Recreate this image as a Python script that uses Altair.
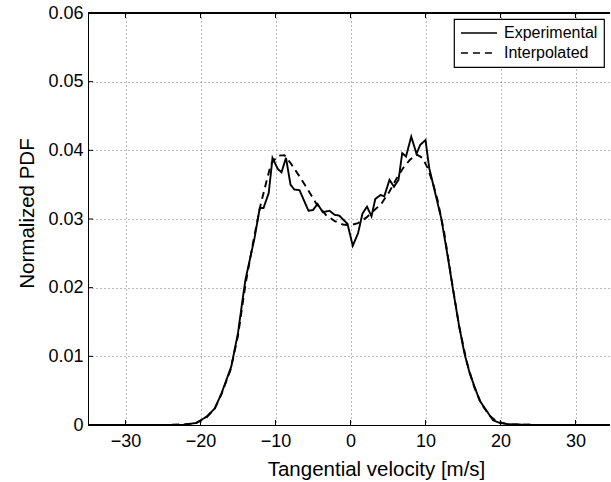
import altair as alt
import pandas as pd

# Experimental PDF
exp_x = [-35, -30, -25, -22.4, -20.6, -19.2, -18.1, -17.2, -15.9, -15.0, -14.4, -14.0,
         -12.8, -12.1, -11.6, -10.9, -10.4, -9.7, -9.2, -8.6, -8.0, -7.5, -6.8, -5.6,
         -5.0, -4.4, -3.7, -2.8, -2.1, -1.5, -0.4, 0.3, 1.0, 1.6, 2.2, 2.8, 3.3, 4.0,
         4.5, 5.2, 5.8, 6.4, 6.9, 7.4, 8.1, 8.8, 9.3, 10.0, 10.5, 11.4, 12.1, 13.0,
         13.7, 14.5, 15.2, 15.9, 17.2, 18.5, 19.0, 19.9, 21.2, 25, 30, 35]
exp_y = [0.0, 0.0, 0.0, 0.0, 0.0003, 0.0012, 0.0024, 0.0046, 0.0085, 0.0134, 0.0182, 0.0212,
         0.0272, 0.0316, 0.0316, 0.0338, 0.0389, 0.0373, 0.0368, 0.0389, 0.0350, 0.0343, 0.0342, 0.0312,
         0.0313, 0.0322, 0.0310, 0.0312, 0.0306, 0.0305, 0.0293, 0.0261, 0.0279, 0.0308, 0.0318, 0.0304, 0.0329, 0.0335,
         0.0333, 0.0357, 0.0347, 0.0357, 0.0396, 0.0391, 0.0420, 0.0395, 0.0408, 0.0415, 0.0374, 0.0333, 0.0301, 0.0243,
         0.0195, 0.0143, 0.0104, 0.0075, 0.0036, 0.0015, 0.0007, 0.0003, 0.0001, 0.0, 0.0, 0.0]

# Interpolated PDF
int_x = [-35, -25, -22, -20.5, -19.2, -18.1, -17.2, -16.0, -15.0, -14.0, -13.0, -12.0,
         -11.2, -10.6, -9.7, -8.8, -7.9, -6.8, -5.7, -4.6, -3.2, -2.1, -1.0, 0.0,
         1.0, 2.1, 3.2, 4.1, 5.2, 6.2, 7.0, 7.9, 8.8, 9.6, 10.3, 11.0, 11.6, 12.5,
         13.5, 14.5, 15.5, 16.5, 17.5, 18.5, 19.5, 21, 25, 35]
int_y = [0.0, 0.0, 0.0001, 0.0003, 0.0011, 0.0024, 0.0045, 0.0080, 0.0130, 0.0205, 0.0265, 0.0320,
         0.0355, 0.0380, 0.0392, 0.0393, 0.0380, 0.0362, 0.0343, 0.0323, 0.0305, 0.0297, 0.0292, 0.0291,
         0.0294, 0.0302, 0.0313, 0.0322, 0.0340, 0.0360, 0.0374, 0.0386, 0.0394, 0.0389, 0.0374, 0.0352, 0.0328, 0.0280,
         0.0210, 0.0143, 0.0092, 0.0055, 0.0030, 0.0014, 0.0005, 0.0001, 0.0, 0.0]

series_names = ["Experimental", "Interpolated"]
x_ticks = [-30, -20, -10, 0, 10, 20, 30]
y_ticks = [0, 0.01, 0.02, 0.03, 0.04, 0.05, 0.06]

df = pd.DataFrame({
    "v": exp_x + int_x,
    "pdf": exp_y + int_y,
    "series": [series_names[0]] * len(exp_x) + [series_names[1]] * len(int_x),
})

W, H = 522, 412
FONT = "Liberation Sans"

xscale = alt.Scale(domain=[-35, 34.6], nice=False, zero=False)
yscale = alt.Scale(domain=[0, 0.06], nice=False)

xaxis = alt.Axis(values=x_ticks, grid=True, gridDash=[1, 3], gridColor="#666", gridWidth=0.9,
                 ticks=False, domain=True, domainColor="black", domainWidth=1,
                 labelFontSize=18, labelColor="black", labelPadding=7, labelFlush=False,
                 title="Tangential velocity [m/s]", titleFontSize=20.5, titleFontWeight="normal",
                 titleColor="black", titleX=288, titleY=50, titleBaseline="alphabetic")
yaxis = alt.Axis(values=y_ticks, grid=True, gridDash=[1, 3], gridColor="#666", gridWidth=0.9,
                 ticks=False, domain=True, domainColor="black", domainWidth=1,
                 labelFontSize=18, labelColor="black", labelPadding=5, labelFlush=False,
                 labelExpr="datum.value == 0 ? '0' : format(datum.value, '.2f')",
                 title="Normalized PDF", titleFontSize=20.5, titleFontWeight="normal",
                 titleColor="black", titleX=-55, titleY=200, titleBaseline="alphabetic",
                 titleAngle=270)

lines = alt.Chart(df).mark_line(color="black", strokeWidth=1.9, clip=True).encode(
    x=alt.X("v:Q", scale=xscale, axis=xaxis),
    y=alt.Y("pdf:Q", scale=yscale, axis=yaxis),
    strokeDash=alt.StrokeDash(
        "series:N",
        scale=alt.Scale(domain=series_names, range=[[1, 0], [7, 5]]),
        legend=alt.Legend(title=None, orient="none", legendX=366, legendY=6,
                          symbolType="stroke", symbolSize=1296, symbolStrokeWidth=1.5,
                          symbolStrokeColor="black", labelFont=FONT, labelFontSize=16,
                          labelColor="black", labelOffset=6, strokeColor="black",
                          fillColor="white", padding=6, rowPadding=4, clipHeight=16,
                          cornerRadius=0),
    ),
)

xt = pd.DataFrame({"v": x_ticks})
yt = pd.DataFrame({"pdf": y_ticks})

bottom_ticks = alt.Chart(xt).mark_rule(color="black", strokeWidth=1).encode(
    x=alt.X("v:Q", scale=xscale, axis=xaxis), y=alt.value(H), y2=alt.value(H - 5))
top_ticks = alt.Chart(xt).mark_rule(color="black", strokeWidth=1).encode(
    x=alt.X("v:Q", scale=xscale, axis=xaxis), y=alt.value(0), y2=alt.value(5))
left_ticks = alt.Chart(yt).mark_rule(color="black", strokeWidth=1).encode(
    y=alt.Y("pdf:Q", scale=yscale, axis=yaxis), x=alt.value(0), x2=alt.value(5))
top_border = alt.Chart(xt).mark_rule(color="black", strokeWidth=1).encode(
    x=alt.value(0), x2=alt.value(W), y=alt.value(0))

chart = alt.layer(lines, bottom_ticks, top_ticks, left_ticks, top_border).properties(
    width=W, height=H,
    autosize=alt.AutoSizeParams(type="none"),
    padding={"left": 88, "top": 13, "right": 0, "bottom": 57},
).configure(font=FONT).configure_view(stroke=None).configure_legend(strokeWidth=1.2)

chart.save("out.html", embed_options={"renderer": "svg", "actions": False})
